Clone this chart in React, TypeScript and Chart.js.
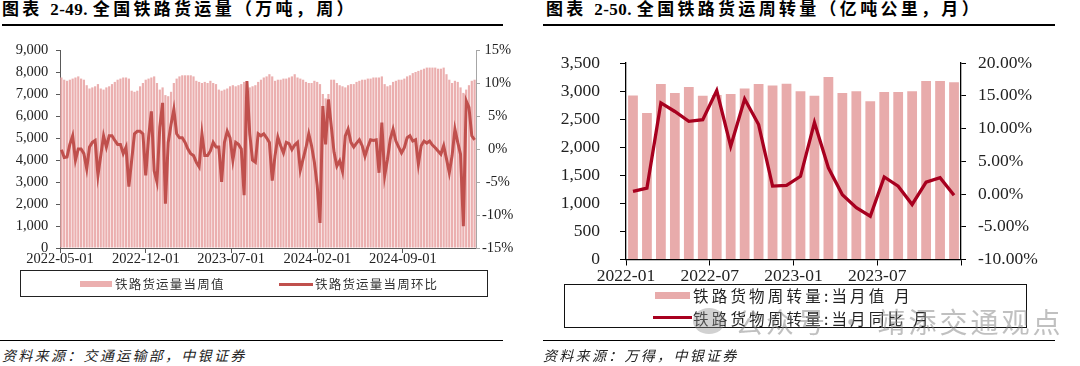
import React, { useEffect, useRef } from 'react';
import { Chart, registerables } from 'chart.js';

Chart.register(...registerables);

// ---------- Left chart data (weekly) ----------
const weekStart = '2022-05-01';
const leftTickDates = ['2022-05-01', '2022-12-01', '2023-07-01', '2024-02-01', '2024-09-01'];
const weeklyVolume = [
  7750, 7650, 7600, 7650, 7700, 7750, 7800, 7700,
  7650, 7400, 7250, 7300, 7350,
  7450, 7250, 7200, 7300, 7350,
  7450, 7550, 7650, 7700, 7750, 7750, 7700,
  7150, 7100, 7150,
  7350, 7500, 7650, 7700, 7750, 7800,
  7500, 7200,
  7300, 6950, 6900, 7100, 7500,
  7700, 7800, 7850, 7850, 7850, 7850, 7800,
  7600, 7550, 7500, 7550, 7500, 7600, 7500, 7450,
  7200, 7150, 7200, 7250,
  7350, 7400, 7350, 7400, 7450,
  7550, 7400, 7300,
  7350, 7400, 7550, 7650, 7750, 7800,
  7900, 7800,
  7600, 7650, 7650, 7700, 7700, 7750, 7800, 7900, 7750,
  7700, 7650, 7550, 7500, 7500, 7600, 7550, 7450,
  7000, 6800, 7000,
  7650, 7650, 7500, 7400, 7350,
  7300, 7400, 7450, 7450,
  7550, 7600, 7650, 7650, 7700, 7700,
  7750, 7750, 7750, 7800,
  7450, 7350, 7400,
  7550, 7600, 7650, 7650, 7700,
  7800, 7850, 7950, 8000, 8050, 8100, 8150, 8200,
  8200, 8200, 8200, 8150, 8150, 8200,
  7900, 7650, 7500, 7600, 7550, 7300,
  7050, 7200, 7400, 7600, 7650,
];
const weeklyChange = [
  -0.1, -1.3, -1.2, 0.7, 2.0, -1.7, 0.0, 0.0, -0.7, -3.0,
  0.3, 1.0, 1.3, -4.0, -1.0, 2.0, 0.3, 2.0, 2.0, 1.3,
  0.7, 0.7, -0.7, 0.3, -5.7, -1.7, 2.3, 2.7, 2.7, 2.3,
  -4.0, 1.7, 5.7, -3.3, -5.0, 3.3, 7.0, -8.3, 1.0, 3.7,
  6.0, 2.3, 1.7, 1.7, 1.0, 0.0, -0.7, -1.0, -2.0, -2.7,
  2.3, -1.0, -1.0, -0.3, 1.0, 0.3, 0.3, -5.0, 1.0, 2.7,
  1.7, -1.7, 1.0, 0.7, 0.0, -7.0, 10.3, 2.3, -1.7, -2.0,
  2.3, 2.0, 2.3, 1.7, 1.0, -4.8, -1.0, 1.8, 0.5, -0.6,
  1.0, 0.8, -0.1, 0.6, 1.0, -3.2, -1.5, 0.2, 2.3, 0.5,
  -2.0, -5.5, -11.2, 6.5, 0.7, 7.5, 3.5, -0.5, -2.6, -1.8,
  -3.4, 2.0, 3.0, 1.0, 0.3, 0.9, 1.4, 0.5, -1.1, 0.3,
  1.4, 1.3, 1.4, -3.6, 4.0, -4.1, -1.6, 1.5, 3.0, 1.2,
  0.3, -0.6, 0.2, 1.7, 2.0, 1.2, 1.4, -2.3, 0.5, 1.2,
  0.9, 1.2, 0.6, 0.2, -0.3, -0.8, 0.5, -1.5, -3.6, -1.0,
  3.0, 1.0, -0.8, -11.7, 7.3, 6.3, 2.0, 1.4,
];

// ---------- Right chart data (monthly) ----------
const months = [
  '2022-01', '2022-02', '2022-03', '2022-04', '2022-05', '2022-06',
  '2022-07', '2022-08', '2022-09', '2022-10', '2022-11', '2022-12',
  '2023-01', '2023-02', '2023-03', '2023-04', '2023-05', '2023-06',
  '2023-07', '2023-08', '2023-09', '2023-10', '2023-11', '2023-12',
];
const rightTickLabels = ['2022-01', '2022-07', '2023-01', '2023-07'];
const monthlyTurnover = [
  2920, 2610, 3126, 2966, 3073, 2918, 2930, 2948, 3048, 3126, 3101, 3132,
  2995, 2918, 3250, 2966, 2995, 2817, 2983, 2983, 2995, 3180, 3180, 3155,
];
const monthlyYoY = [
  0.4, 0.9, 13.9, 12.6, 11.1, 11.35, 15.8, 7.3, 14.5, 10.6, 1.2, 1.3,
  2.7, 10.9, 4.0, -0.1, -2.1, -3.4, 2.6, 1.2, -1.6, 1.8, 2.5, -0.2,
];

const SERIF = '"Liberation Serif", "Times New Roman", serif';
const CJK = '"Liberation Serif", "Noto Sans CJK SC", sans-serif';
const CJK_SANS = '"Noto Sans CJK SC", sans-serif';

const dayOffset = (d: string) => (Date.parse(d) - Date.parse(weekStart)) / 86400000;

function LeftChart() {
  const ref = useRef<HTMLCanvasElement>(null);
  useEffect(() => {
    const tickDays = leftTickDates.map(dayOffset);
    const labelFor = (v: number) => {
      const k = tickDays.indexOf(v);
      return k >= 0 ? leftTickDates[k] : '';
    };
    const font = { family: SERIF, size: 14.5 };
    const chart = new Chart(ref.current!, {
      type: 'bar',
      data: {
        datasets: [
          {
            type: 'line',
            label: '铁路货运量当周环比',
            data: weeklyChange.map((v, i) => ({ x: 7 * i + 3.5, y: v })),
            yAxisID: 'y1',
            borderColor: '#C0504D',
            borderWidth: 3,
            pointRadius: 0,
            tension: 0,
            order: 0,
          } as any,
          {
            type: 'bar',
            label: '铁路货运量当周值',
            data: weeklyVolume.map((v, i) => ({ x: 7 * i + 3.5, y: v })),
            yAxisID: 'y',
            backgroundColor: '#EBAFAF',
            barPercentage: 0.78,
            categoryPercentage: 1,
            order: 1,
          } as any,
        ],
      },
      options: {
        responsive: false,
        animation: false,
        layout: { padding: { top: 50, left: 0, right: 0, bottom: 0 } },
        plugins: { legend: { display: false }, tooltip: { enabled: false } },
        scales: {
          x: {
            type: 'linear',
            min: 0,
            max: 7 * weeklyVolume.length,
            offset: false,
            afterBuildTicks: (s: any) => { s.ticks = tickDays.map((v) => ({ value: v })); },
            afterFit: (s: any) => { s.height = 32; },
            grid: { display: true, drawOnChartArea: false, drawTicks: true, tickLength: 5, color: '#595959', offset: false },
            border: { display: true, color: '#595959', width: 1 },
            ticks: { font, color: '#222', padding: -3, maxRotation: 0, autoSkip: false, callback: (v: any) => labelFor(Number(v)) },
          },
          y: {
            position: 'left',
            min: 0,
            max: 9000,
            afterFit: (s: any) => { s.width = 60; },
            grid: { display: true, drawOnChartArea: false, tickLength: 4, color: '#595959' },
            border: { display: true, color: '#595959', width: 1 },
            ticks: { stepSize: 1000, font, color: '#222', padding: 7.7, callback: (v: any) => Number(v).toLocaleString('en-US') },
          },
          y1: {
            position: 'right',
            min: -15,
            max: 15,
            afterFit: (s: any) => { s.width = 64; },
            grid: { display: true, drawOnChartArea: false, tickLength: 4, color: '#A6A6A6' },
            border: { display: true, color: '#A6A6A6', width: 1 },
            ticks: { stepSize: 5, font, color: '#222', padding: 2, crossAlign: 'center', callback: (v: any) => `${v}%` },
          },
        },
      } as any,
    });
    return () => chart.destroy();
  }, []);
  return <canvas ref={ref} width={540} height={280} style={{ position: 'absolute', left: 0, top: 0, width: 540, height: 280 }} />;
}

function RightChart() {
  const ref = useRef<HTMLCanvasElement>(null);
  useEffect(() => {
    const tickIdx = rightTickLabels.map((l) => months.indexOf(l)).concat([months.length]);
    const font = { family: SERIF, size: 17.5 };
    const chart = new Chart(ref.current!, {
      type: 'bar',
      data: {
        datasets: [
          {
            type: 'line',
            label: '铁路货物周转量:当月同比 月',
            data: monthlyYoY.map((v, i) => ({ x: i + 0.5, y: v })),
            yAxisID: 'y1',
            borderColor: '#A8001F',
            borderWidth: 3.3,
            pointRadius: 0,
            tension: 0,
            order: 0,
          } as any,
          {
            type: 'bar',
            label: '铁路货物周转量:当月值 月',
            data: monthlyTurnover.map((v, i) => ({ x: i + 0.5, y: v })),
            yAxisID: 'y',
            backgroundColor: '#E8ABAB',
            barPercentage: 0.7,
            categoryPercentage: 1,
            order: 1,
          } as any,
        ],
      },
      options: {
        responsive: false,
        animation: false,
        layout: { padding: { top: 63, left: 0, right: 0, bottom: 0 } },
        plugins: { legend: { display: false }, tooltip: { enabled: false } },
        scales: {
          x: {
            type: 'linear',
            min: 0,
            max: months.length,
            offset: false,
            afterBuildTicks: (s: any) => { s.ticks = tickIdx.map((v) => ({ value: v })); },
            afterFit: (s: any) => { s.height = 30; },
            grid: { display: true, drawOnChartArea: false, drawTicks: true, tickLength: 6, color: '#000', offset: false },
            border: { display: true, color: '#000', width: 1.3 },
            ticks: { font, color: '#222', padding: 0, maxRotation: 0, autoSkip: false, callback: (v: any) => months[Number(v)] && rightTickLabels.includes(months[Number(v)]) ? months[Number(v)] : '' },
          },
          y: {
            position: 'left',
            min: 0,
            max: 3500,
            afterFit: (s: any) => { s.width = 86; },
            grid: { display: true, drawOnChartArea: false, tickLength: 6, color: '#000' },
            border: { display: true, color: '#000', width: 1.3 },
            ticks: { stepSize: 500, font, color: '#222', padding: 20, callback: (v: any) => Number(v).toLocaleString('en-US') },
          },
          y1: {
            position: 'right',
            min: -10,
            max: 20,
            afterFit: (s: any) => { s.width = 119; },
            grid: { display: true, drawOnChartArea: false, tickLength: 5, color: '#000' },
            border: { display: true, color: '#000', width: 1.3 },
            ticks: { stepSize: 5, font, color: '#222', padding: 12, callback: (v: any) => `${Number(v).toFixed(2)}%` },
          },
        },
      } as any,
    });
    return () => chart.destroy();
  }, []);
  return <canvas ref={ref} width={540} height={290} style={{ position: 'absolute', left: 540, top: 0, width: 540, height: 290 }} />;
}

const abs = (s: React.CSSProperties): React.CSSProperties => ({ position: 'absolute', whiteSpace: 'nowrap', ...s });

const titleStyle = (left: number): React.CSSProperties =>
  abs({ left, top: 0, fontFamily: CJK, fontWeight: 700, fontSize: 17, lineHeight: '19px', letterSpacing: 3.3, color: '#000' });

export default function App() {
  return (
    <div style={{ position: 'absolute', left: 0, top: 0, width: 1080, height: 366, background: '#fff', overflow: 'hidden' }}>
      {/* Titles */}
      <div style={titleStyle(2)}>
        图表 <span style={{ letterSpacing: 0.5 }}>2-49. </span>全国铁路货运量（万吨，周）
      </div>
      <div style={titleStyle(546)}>
        图表 <span style={{ letterSpacing: 0.5 }}>2-50. </span>全国铁路货运周转量（亿吨公里，月）
      </div>
      <div style={abs({ left: 2, top: 24, width: 501, height: 2, background: '#000' })} />
      <div style={abs({ left: 543, top: 24, width: 512, height: 2, background: '#000' })} />

      <LeftChart />
      <RightChart />

      {/* Left legend */}
      <div style={abs({ left: 20, top: 270, width: 468, height: 27, border: '1.5px solid #222', boxSizing: 'border-box' })} />
      <div style={abs({ left: 80, top: 281, width: 32, height: 5.5, background: '#EBAFAF' })} />
      <div style={abs({ left: 115, top: 276, fontFamily: CJK_SANS, fontSize: 12.5, lineHeight: '16px', letterSpacing: 1.2, color: '#333' })}>铁路货运量当周值</div>
      <div style={abs({ left: 279, top: 282.5, width: 34, height: 3, background: '#C0504D' })} />
      <div style={abs({ left: 315, top: 276, fontFamily: CJK_SANS, fontSize: 12.5, lineHeight: '16px', letterSpacing: 1.2, color: '#333' })}>铁路货运量当周环比</div>

      {/* Right legend */}
      <div style={abs({ left: 564, top: 284, width: 463, height: 44, border: '1.5px solid #111', boxSizing: 'border-box' })} />
      <div style={abs({ left: 655, top: 292, width: 35, height: 7, background: '#E8ABAB' })} />
      <div style={abs({ left: 693, top: 285.5, fontFamily: CJK_SANS, fontSize: 15.5, lineHeight: '19px', letterSpacing: 3.2, color: '#222' })}>铁路货物周转量:当月值 月</div>
      <div style={abs({ left: 653, top: 315.5, width: 39, height: 3, background: '#A8001F' })} />
      <div style={abs({ left: 693, top: 308.5, fontFamily: CJK_SANS, fontSize: 15.5, lineHeight: '19px', letterSpacing: 3.2, color: '#222' })}>铁路货物周转量:当月同比 月</div>

      {/* Watermark */}
      <div style={abs({ left: 693, top: 308, width: 32, height: 26, borderRadius: '50%', background: 'rgba(140,140,140,0.4)' })} />
      <div style={abs({ left: 735, top: 304, fontFamily: CJK_SANS, fontSize: 28, lineHeight: '34px', letterSpacing: 3, color: 'rgba(130,130,130,0.5)' })}>公众号 · 靖添交通观点</div>

      {/* Bottom rules and sources */}
      <div style={abs({ left: 0, top: 339.5, width: 503, height: 1.5, background: '#000' })} />
      <div style={abs({ left: 543, top: 339.5, width: 512, height: 1.5, background: '#000' })} />
      <div style={abs({ left: 2, top: 346, fontFamily: CJK_SANS, fontStyle: 'italic', fontSize: 14, lineHeight: '18px', letterSpacing: 2.3, color: '#222' })}>资料来源：交通运输部，中银证券</div>
      <div style={abs({ left: 543, top: 346, fontFamily: CJK_SANS, fontStyle: 'italic', fontSize: 14, lineHeight: '18px', letterSpacing: 2.3, color: '#222' })}>资料来源：万得，中银证券</div>
    </div>
  );
}
